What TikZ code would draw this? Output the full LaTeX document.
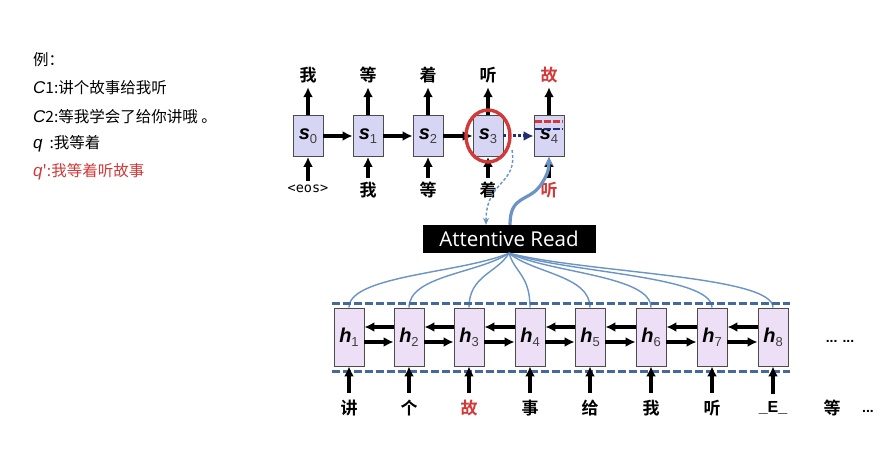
\documentclass[tikz,border=0pt]{standalone}
\usepackage{fontspec}
\setmainfont{Liberation Sans}
\newfontfamily\cjk{Noto Sans CJK SC}
\newfontfamily\cjkb{Noto Sans CJK SC Bold}
\newfontfamily\ui{Open Sans}
\newfontfamily\mono{DejaVu Sans Mono}
\usetikzlibrary{arrows.meta,calc}
\definecolor{boxA}{HTML}{D6D6F4}
\definecolor{boxB}{HTML}{ECDFF6}
\definecolor{redc}{HTML}{D23A3A}
\definecolor{bluel}{HTML}{6A93C6}
\definecolor{blued}{HTML}{46699C}
\definecolor{navy}{HTML}{1F2F6F}
\newcommand{\slab}[2]{{\fontsize{20}{20}\selectfont\bfseries\itshape #1}\raisebox{-4pt}{\fontsize{13}{13}\selectfont\color{black!75} #2}}
\begin{document}
\begin{tikzpicture}[x=1pt,y=-1pt,
  sbox/.style={draw=gray!60!black, fill=boxA, minimum width=30pt, minimum height=41pt, inner sep=0pt, line width=0.9pt},
  hbox/.style={draw=gray!60!black, fill=boxB, minimum width=30pt, minimum height=58pt, inner sep=0pt, line width=0.9pt},
  arr/.style={-{Latex[length=10pt,width=10pt]}, line width=3.2pt},
  word/.style={font=\cjkb\fontsize{17}{17}\selectfont, inner sep=1pt},
  left/.style={anchor=west, font=\cjk\fontsize{15.5}{15.5}\selectfont, inner sep=0pt},
  att/.style={bluel, line width=1.4pt}
]
\fill[white] (0,0) rectangle (888,462);
\useasboundingbox (0,0) rectangle (888,462);

% left text
\node[left] (t0) at (33,60) {例：};
\node[left] (t1) at (33,88) {{\fontspec{Liberation Sans}\itshape\fontsize{17}{17}\selectfont C}1:讲个故事给我听};
\node[left] (t2) at (33,117) {{\fontspec{Liberation Sans}\itshape\fontsize{17}{17}\selectfont C}2:等我学会了给你讲哦 。};
\node[left] (t3) at (33,144) {{\fontspec{Liberation Sans}\itshape\fontsize{17}{17}\selectfont q}\ \ :我等着};
\node[left, text=redc] (t4) at (33,172) {{\fontspec{Liberation Sans}\itshape\fontsize{17}{17}\selectfont q}':我等着听故事};

% decoder
\foreach \i/\x in {0/308,1/368,2/428,3/488,4/549}{
  \node[sbox] (s\i) at (\x,136) {\slab{s}{\i}};
}
\node[word] (o0) at (308,75) {我};
\node[word] (o1) at (368,75) {等};
\node[word] (o2) at (428,75) {着};
\node[word] (o3) at (488,75) {听};
\node[word, text=redc] (o4) at (549,75) {故};
\node[font=\mono\fontsize{13.5}{13.5}\selectfont, inner sep=1pt] (i0) at (308,189) {<eos>};
\node[word] (i1) at (368,190) {我};
\node[word] (i2) at (428,190) {等};
\node[word] (i3) at (488,190) {着};
\node[word, text=redc] (i4) at (549,190) {听};
\foreach \i in {0,...,4}{
  \draw[arr, shorten >=3pt] (s\i.north) -- (o\i.south);
  \draw[arr, shorten <=3pt] (i\i.north) -- (s\i.south);
}
\draw[arr] (s0.east) -- (s1.west);
\draw[arr] (s1.east) -- (s2.west);
\draw[arr] (s2.east) -- (s3.west);
\draw[-{Latex[length=10pt,width=10pt]}, line width=3pt, navy, dash pattern=on 3pt off 2pt] (s3.east) -- (s4.west);
\draw[redc, line width=3pt, dash pattern=on 7pt off 2pt] ($(s4.north west)+(1,6)$) -- ($(s4.north east)+(-1,6)$);
\draw[navy, line width=2.4pt, dash pattern=on 7pt off 2pt] ($(s4.north west)+(1,14)$) -- ($(s4.north east)+(-1,14)$);
\draw[redc, line width=3.4pt] (s3) ellipse [x radius=22pt, y radius=26pt];

% attentive read
\node[fill=black, text=white, font=\ui\fontsize{20.5}{20.5}\selectfont, minimum width=173pt, minimum height=28pt, inner sep=0pt] (ar) at (509,239) {Attentive Read};
\coordinate (d0) at (512,150);
\draw[bluel, line width=1.4pt, dash pattern=on 3pt off 2pt, -{Stealth[length=7pt,width=6pt]}] (d0) .. controls (518,185) and (486,180) .. ($(ar.north)+(-23,0)$);
\draw[bluel, line width=3.2pt, -{Stealth[length=9pt,width=9pt]}] ($(ar.north)+(1,0)$) .. controls (510,195) and (528,202) .. (540,186) .. controls (547,176) and (549,170) .. (s4.south);

% encoder
\foreach \i/\x in {1/349,2/409,3/469,4/530,5/590,6/651,7/712,8/773}{
  \node[hbox] (h\i) at (\x,337) {\slab{h}{\i}};
}
\foreach \i in {1,...,8}{
  \draw[att] (ar.south) .. controls ($(ar.south)!0.3!(h\i.north |- ar.south)+(0,20)$) and ($(h\i.north)+(0,-32)$) .. (h\i.north);
}
\foreach \a/\b in {1/2,2/3,3/4,4/5,5/6,6/7,7/8}{
  \draw[arr] ($(h\a.east)+(0,5)$) -- ($(h\b.west)+(0,5)$);
  \draw[arr] ($(h\b.west)+(0,-10)$) -- ($(h\a.east)+(0,-10)$);
}
\draw[blued, line width=3pt, dash pattern=on 8pt off 3pt] ($(h1.north west)+(-2,-4)$) -- ($(h8.north east)+(2,-4)$);
\draw[blued, line width=3pt, dash pattern=on 8pt off 3pt] ($(h1.south west)+(-2,5)$) -- ($(h8.south east)+(2,5)$);

\node[word] (e1) at (349,408) {讲};
\node[word] (e2) at (409,408) {个};
\node[word, text=redc] (e3) at (469,408) {故};
\node[word] (e4) at (530,408) {事};
\node[word] (e5) at (590,408) {给};
\node[word] (e6) at (651,408) {我};
\node[word] (e7) at (712,408) {听};
\node[word, font=\bfseries\fontsize{16}{16}\selectfont] (e8) at (773,408) {\_E\_};
\foreach \i in {1,...,8}{
  \draw[arr, shorten <=6pt] (e\i.north) -- (h\i.south);
}
\node[word] (e9) at (832,408) {等};
\node[font=\bfseries\fontsize{14}{14}\selectfont, inner sep=0pt] (e10) at (868,411) {...};
\node[font=\bfseries\fontsize{14}{14}\selectfont, inner sep=0pt] (dots) at (840,341) {... ...};
\end{tikzpicture}
\end{document}
